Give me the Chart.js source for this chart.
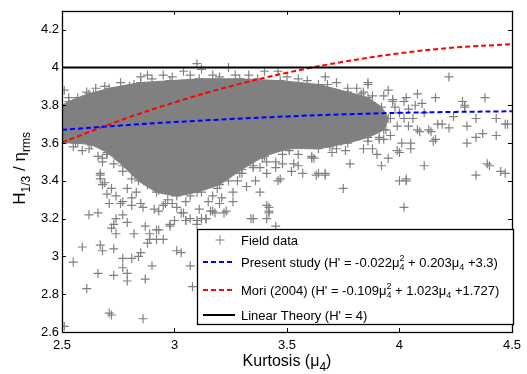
<!DOCTYPE html>
<html>
<head>
<meta charset="utf-8">
<script src="https://cdn.jsdelivr.net/npm/chart.js@4/dist/chart.umd.min.js"></script>
<style>
  html, body { margin: 0; padding: 0; background: #fff; }
</style>
</head>
<body>
<canvas id="chart" width="527" height="374"></canvas>
<script>
// axis ticks
const xTicks = [2.5, 3, 3.5, 4, 4.5];
const yTicks = [2.6, 2.8, 3, 3.2, 3.4, 3.6, 3.8, 4, 4.2];

// fitted curves
const curveX = [2.5, 2.75, 3, 3.25, 3.5, 3.75, 4, 4.25, 4.5];
const presentStudy = [3.670, 3.692, 3.711, 3.727, 3.741, 3.752, 3.760, 3.765, 3.768];
const mori2004 = [3.603, 3.716, 3.815, 3.901, 3.972, 4.030, 4.075, 4.106, 4.123];
const linearX = [2.5, 4.5];
const linearTheory = [4, 4];

// outline of the solid part of the field data cloud
const denseCore = [
  [2.50,3.80],[2.53,3.82],[2.57,3.84],[2.62,3.86],[2.71,3.89],[2.85,3.92],[2.98,3.93],
  [3.11,3.94],[3.29,3.94],[3.47,3.93],[3.64,3.91],[3.77,3.87],[3.86,3.84],[3.92,3.79],
  [3.95,3.73],[3.93,3.67],[3.86,3.63],[3.77,3.60],[3.64,3.57],[3.51,3.57],[3.40,3.53],
  [3.30,3.46],[3.20,3.38],[3.10,3.34],[3.01,3.32],[2.92,3.34],[2.84,3.40],[2.77,3.48],
  [2.70,3.55],[2.63,3.59],[2.56,3.60],[2.50,3.60]
];

// individual field data points around and outside the cloud
const fieldData = [
  // lower left tail
  [2.62,3.22],[2.66,3.23],[2.59,3.05],[2.55,2.97],[2.67,3.06],[2.68,3.03],[2.73,3.04],
  [2.66,2.91],[2.73,2.90],[2.61,2.83],[2.71,2.70],[2.72,2.69],[2.86,2.67],[2.51,2.63],
  [2.77,2.94],[2.79,2.91],[2.79,2.87],[2.87,2.88],[2.77,2.99],[2.81,2.99],[2.84,3.00],
  [2.85,3.02],[2.90,2.95],[2.88,3.07],[2.89,3.09],[2.92,3.09],[2.95,3.09],[3.01,3.03],
  [3.03,3.02],[3.07,2.95],[3.08,2.84],[2.82,3.12],[2.74,3.12],[2.72,3.15],[2.73,3.17],
  [2.74,3.20],[2.77,3.22],[2.79,3.18],[2.87,3.16],[2.92,3.14],[2.98,3.16],[3.00,3.19],
  [3.05,3.19],[3.10,3.17],[3.12,3.20],[3.16,3.24],[2.67,3.41],[2.68,3.38],[2.70,3.33],
  [2.71,3.28],[2.76,3.28],[2.81,3.27],[2.86,3.26],[2.93,3.24],[2.96,3.28],[3.01,3.26],
  [3.04,3.23],
  // lower middle
  [3.62,3.52],[3.67,3.43],[3.64,3.44],[3.75,3.36],[3.78,3.49],[3.92,3.48],[3.95,3.52],
  [3.41,3.27],[3.42,3.24],[3.34,3.20],[3.41,3.20],[3.45,3.16],[3.17,3.24],[3.14,3.20],
  [3.22,3.23],[3.46,3.40],[3.38,3.34],[3.52,3.45],[3.55,3.48],[3.20,3.28],[3.26,3.29],
  // right side
  [4.30,3.69],[4.34,3.63],[4.37,3.65],[4.43,3.64],[4.30,3.60],[4.39,3.49],[4.45,3.45],
  [4.47,3.44],[4.34,3.43],[4.11,3.48],[4.00,3.55],[4.03,3.40],[4.00,3.40],[4.02,3.26],
  [4.16,3.62],[4.15,3.61],[4.09,3.66],[4.14,3.66],[4.19,3.70],[4.22,3.68],[4.29,3.79],
  [4.34,3.73],[4.43,3.73],[4.47,3.70],[4.24,3.74],[4.05,3.60],[4.01,3.60],[3.93,3.62],
  [4.22,3.95],[3.86,3.91],[4.38,3.84],[4.28,3.82],[4.29,3.80],[4.16,3.84],[4.08,3.86],
  [4.10,3.81],[4.40,3.48],[4.03,3.41],[4.05,3.57],[3.96,3.64],[3.91,3.63],[3.88,3.57],
  [3.90,3.54],[3.85,3.65],[4.48,3.70],[4.17,3.70],[4.13,3.67],[4.08,3.67],
  [3.84,3.87],[3.88,3.85],[3.93,3.85],[3.97,3.82],[4.02,3.82],[4.04,3.78],[4.00,3.76],
  [3.96,3.73],[4.02,3.73],[4.06,3.73],[4.11,3.76],[3.99,3.69],[4.04,3.69],[3.94,3.67],
  // upper and left fringe
  [3.10,4.02],[3.12,3.99],[3.04,3.98],[2.95,3.96],[2.88,3.96],[2.85,3.95],[2.82,3.91],
  [2.80,3.90],[2.73,3.87],[2.65,3.89],[2.64,3.86],[2.59,3.83],[2.55,3.81],[2.51,3.88],
  [2.54,3.71],[2.52,3.70],[2.57,3.60],[2.59,3.56],[2.68,3.52],[2.67,3.43],[3.17,3.96],
  [3.24,4.00],[3.27,3.96],[3.40,3.98],[3.46,3.98],[3.67,3.95],[3.68,3.91],[3.55,3.94],
  [3.83,3.86],[3.77,3.89],[3.74,3.61],[3.77,3.65],[3.81,3.65],[3.61,3.52],[3.63,3.43],
  [3.67,3.44],[3.57,3.44],[3.53,3.49],[3.48,3.49],[3.41,3.50],[3.35,3.47],[3.30,3.44],
  [3.69,3.58],[3.72,3.57],[3.75,3.69],
  [3.86,3.92],[3.95,3.88],[4.03,3.84],[4.07,3.80],[3.91,3.62],[3.86,3.61],[3.84,3.57],
  [3.76,3.56],[3.61,3.53],[3.99,3.56],[3.97,3.83],[3.98,3.79],[3.81,3.89],
  [2.76,3.92],[2.90,3.94],[2.99,3.95],[3.07,3.96],[3.20,3.95],[3.33,3.96],[3.37,3.94],
  [3.50,3.95],[3.59,3.93],[3.72,3.92],[2.69,3.90],[2.61,3.87],[2.53,3.84],[2.56,3.77],
  // lower fringe of the cloud
  [2.66,3.53],[2.68,3.50],[2.67,3.44],[2.69,3.39],[2.72,3.36],[2.74,3.32],[2.77,3.29],
  [2.81,3.31],[2.85,3.28],[2.91,3.25],[2.95,3.27],[2.99,3.28],[3.03,3.23],[3.07,3.20],
  [3.11,3.25],[3.15,3.29],[3.21,3.31],[3.26,3.34],[3.32,3.37],[3.36,3.40],[3.41,3.44],
  [3.45,3.47],[3.47,3.41],[3.42,3.26],[3.42,3.23],[3.35,3.20],[3.23,3.24],[3.18,3.23],
  [3.14,3.20],[3.10,3.19],[3.05,3.19],[2.98,3.17],[2.93,3.14],[2.89,3.12],[3.45,3.50],
  [3.48,3.54],[3.51,3.56],[3.39,3.52],[3.35,3.48],[3.29,3.44],[3.24,3.40],[3.19,3.36],
  [3.12,3.34],[3.07,3.32],[2.99,3.34],[2.93,3.35],[2.88,3.38],[2.81,3.41],[2.77,3.45],
  [2.73,3.49],[2.70,3.54],[2.62,3.57],[2.55,3.58],[2.79,3.36],[2.83,3.34],[2.97,3.30],
  [3.05,3.29],[3.17,3.32],[3.28,3.40],[3.38,3.47],[3.55,3.54],[3.70,3.55]
];

const FONT = "'Liberation Sans', Arial, Helvetica, sans-serif";
const GRAY = '#808080';

const toXY = (xs, ys) => xs.map((x, i) => ({ x: x, y: ys[i] }));
const pairs = arr => arr.map(p => ({ x: p[0], y: p[1] }));

// text with sub/superscripts; returns width
function drawRich(ctx, parts, x, y, size, dry) {
  let cx = x;
  const big = size + 'px ' + FONT;
  const small = Math.round(size * 0.72) + 'px ' + FONT;
  parts.forEach(p => {
    if (p.t !== undefined) {
      ctx.font = big;
      if (!dry) ctx.fillText(p.t, cx, y);
      cx += ctx.measureText(p.t).width;
    } else {
      ctx.font = small;
      let w = 0;
      if (p.sub) {
        if (!dry) ctx.fillText(p.sub, cx, y + size * 0.3);
        w = ctx.measureText(p.sub).width;
      }
      if (p.sup) {
        if (!dry) ctx.fillText(p.sup, cx, y - size * 0.42);
        w = Math.max(w, ctx.measureText(p.sup).width);
      }
      cx += w;
    }
  });
  return cx - x;
}

const legendRows = [
  { y: 240, marker: true, parts: [{ t: 'Field data' }] },
  { y: 262, color: '#0000ff', dash: [5, 3], parts: [{ t: "Present study (H' = -0.022\u03bc" }, { sub: '4', sup: '2' }, { t: ' + 0.203\u03bc' }, { sub: '4' }, { t: ' +3.3)' }] },
  { y: 290, color: '#ff0000', dash: [5, 3], parts: [{ t: "Mori (2004) (H' = -0.109\u03bc" }, { sub: '4', sup: '2' }, { t: ' + 1.023\u03bc' }, { sub: '4' }, { t: ' +1.727)' }] },
  { y: 315, color: '#000000', dash: [], parts: [{ t: "Linear Theory (H' = 4)" }] }
];

const decorations = {
  id: 'decorations',
  afterDraw(chart) {
    const ctx = chart.ctx;
    const a = chart.chartArea;
    const xs = chart.scales.x, ys = chart.scales.y;
    ctx.save();
    ctx.strokeStyle = '#000';
    ctx.lineWidth = 1;
    // inward ticks
    ctx.beginPath();
    yTicks.forEach(v => {
      const py = Math.round(ys.getPixelForValue(v)) + 0.5;
      ctx.moveTo(a.left, py); ctx.lineTo(a.left + 4, py);
      ctx.moveTo(a.right, py); ctx.lineTo(a.right - 4, py);
    });
    xTicks.forEach(v => {
      const px = Math.round(xs.getPixelForValue(v)) + 0.5;
      ctx.moveTo(px, a.bottom); ctx.lineTo(px, a.bottom - 4);
      ctx.moveTo(px, a.top); ctx.lineTo(px, a.top + 4);
    });
    ctx.stroke();
    // frame
    ctx.lineWidth = 1.3;
    ctx.strokeRect(Math.round(a.left) + 0.5, Math.round(a.top) + 0.5, Math.round(a.right - a.left), Math.round(a.bottom - a.top));

    // legend box
    const bx = 197, by = 229, bw = 316, bh = 95;
    ctx.fillStyle = '#fff';
    ctx.fillRect(bx, by, bw, bh);
    ctx.lineWidth = 1.3;
    ctx.strokeRect(bx + 0.5, by + 0.5, bw, bh);
    ctx.textBaseline = 'alphabetic';
    legendRows.forEach(r => {
      if (r.marker) {
        ctx.strokeStyle = GRAY; ctx.lineWidth = 1;
        ctx.beginPath();
        ctx.moveTo(215.5, r.y); ctx.lineTo(224.5, r.y);
        ctx.moveTo(220, r.y - 4.5); ctx.lineTo(220, r.y + 4.5);
        ctx.stroke();
      } else {
        ctx.strokeStyle = r.color; ctx.lineWidth = 2;
        ctx.setLineDash(r.dash);
        ctx.beginPath();
        ctx.moveTo(203, r.y); ctx.lineTo(235, r.y);
        ctx.stroke();
        ctx.setLineDash([]);
      }
      ctx.fillStyle = '#000';
      drawRich(ctx, r.parts, 241, r.y + 4.5, 13);
    });

    // axis titles
    ctx.fillStyle = '#000';
    const xt = [{ t: 'Kurtosis (\u03bc' }, { sub: '4' }, { t: ')' }];
    const xw = drawRich(ctx, xt, 0, 0, 16, true);
    drawRich(ctx, xt, (a.left + a.right) / 2 - xw / 2, 366, 16);

    const yt = [{ t: 'H' }, { sub: '1/3' }, { t: ' / \u03b7' }, { sub: 'rms' }];
    const yw = drawRich(ctx, yt, 0, 0, 17, true);
    ctx.translate(25, (a.top + a.bottom) / 2 - 3);
    ctx.rotate(-Math.PI / 2);
    drawRich(ctx, yt, -yw / 2, 0, 17);
    ctx.restore();
  }
};

new Chart(document.getElementById('chart'), {
  type: 'scatter',
  data: {
    datasets: [
      {
        label: 'Linear Theory',
        data: toXY(linearX, linearTheory),
        showLine: true, borderColor: '#000', borderWidth: 1.8, pointRadius: 0, order: 1
      },
      {
        label: 'Present study',
        data: toXY(curveX, presentStudy),
        showLine: true, borderColor: '#0000ff', borderWidth: 2, borderDash: [5, 3],
        pointRadius: 0, tension: 0.4, order: 2
      },
      {
        label: 'Mori (2004)',
        data: toXY(curveX, mori2004),
        showLine: true, borderColor: '#ff0000', borderWidth: 2, borderDash: [5, 3],
        pointRadius: 0, tension: 0.4, order: 3
      },
      {
        label: 'Field data',
        data: pairs(fieldData),
        showLine: false, pointStyle: 'cross', pointRadius: 4.5,
        borderColor: GRAY, pointBorderWidth: 1.2, order: 4
      },
      {
        label: 'Field data (dense)',
        data: pairs(denseCore),
        showLine: true, fill: 'shape', tension: 0.1,
        backgroundColor: GRAY, borderColor: GRAY, borderWidth: 1,
        pointStyle: 'cross', pointRadius: 4.5, pointBorderWidth: 1.2, order: 5
      }
    ]
  },
  options: {
    responsive: false,
    animation: false,
    events: [],
    layout: { padding: { top: 9, right: 13, left: 0, bottom: 0 } },
    plugins: { legend: { display: false }, tooltip: { enabled: false } },
    scales: {
      x: {
        type: 'linear', min: 2.5, max: 4.5,
        grid: { display: false, drawTicks: false },
        border: { display: false },
        afterBuildTicks: s => { s.ticks = xTicks.map(v => ({ value: v })); },
        afterFit: s => { s.height = 42; },
        ticks: { padding: 6, color: '#000', maxRotation: 0, autoSkip: false,
                 font: { family: FONT, size: 13 }, callback: v => String(v) }
      },
      y: {
        type: 'linear', min: 2.6, max: 4.3,
        grid: { display: false, drawTicks: false },
        border: { display: false },
        afterBuildTicks: s => { s.ticks = yTicks.map(v => ({ value: v })); },
        afterFit: s => { s.width = 62; },
        ticks: { padding: 3, color: '#000', autoSkip: false,
                 font: { family: FONT, size: 13 }, callback: v => String(v) }
      }
    }
  },
  plugins: [decorations]
});
</script>
</body>
</html>
